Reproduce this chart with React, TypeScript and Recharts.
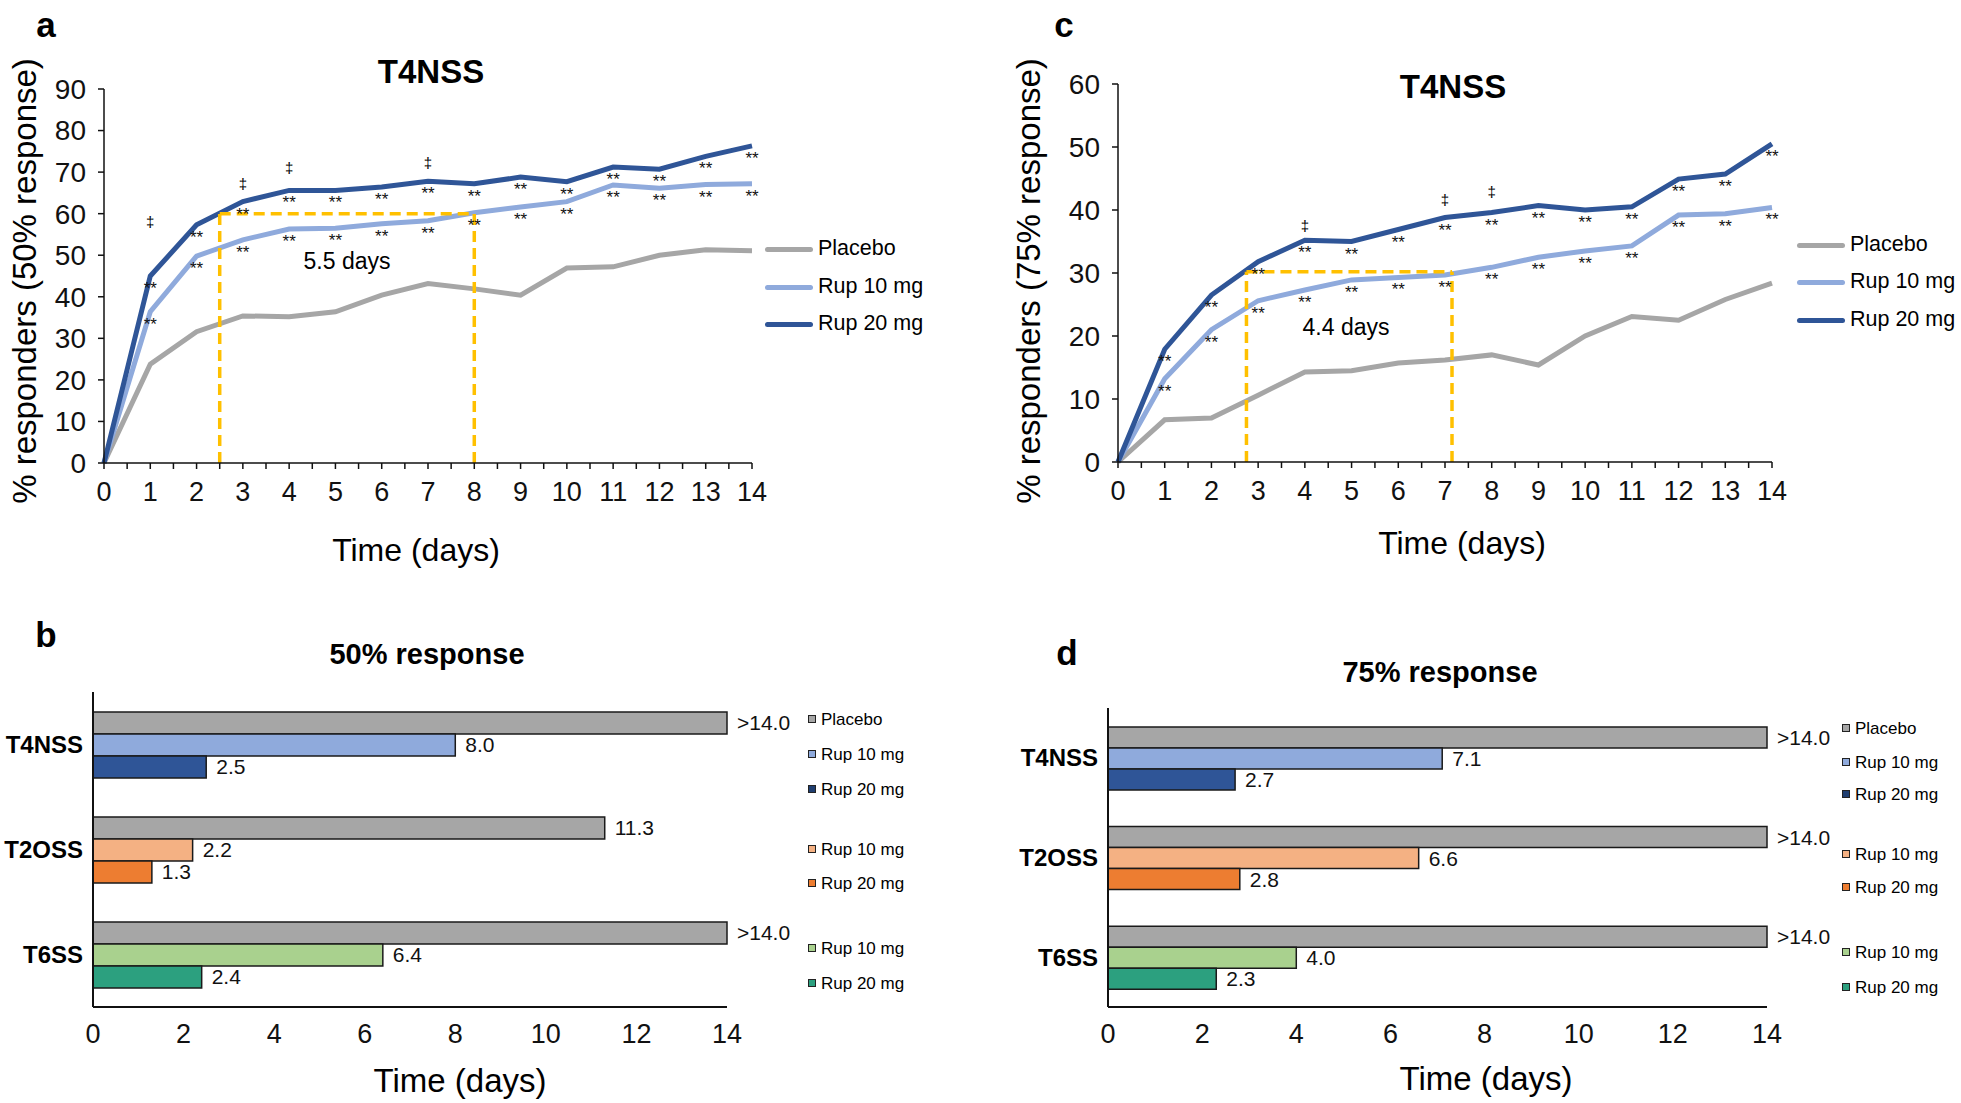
import React from "react";
import {
  ComposedChart,
  Line,
  Scatter,
  XAxis,
  YAxis,
  ReferenceLine,
  BarChart,
  Bar,
  Cell,
  LabelList,
} from "recharts";

const FONT = '"Liberation Sans", Arial, Helvetica, sans-serif';

// ---- line panels (T4NSS responders over time) ----
const days = [0, 1, 2, 3, 4, 5, 6, 7, 8, 9, 10, 11, 12, 13, 14];
const dayTicks = [
  0, 0.5, 1, 1.5, 2, 2.5, 3, 3.5, 4, 4.5, 5, 5.5, 6, 6.5, 7, 7.5, 8, 8.5, 9, 9.5, 10, 10.5, 11, 11.5,
  12, 12.5, 13, 13.5, 14,
];

const placebo50 = [0, 23.8, 31.6, 35.4, 35.2, 36.4, 40.4, 43.2, 41.9, 40.4, 46.9, 47.2, 50.0, 51.3, 51.1];
const rup10mg50 = [0, 36.4, 49.8, 53.7, 56.3, 56.5, 57.6, 58.3, 60.2, 61.6, 62.9, 66.9, 66.1, 67.0, 67.2];
const rup20mg50 = [0, 45.0, 57.3, 62.9, 65.6, 65.6, 66.4, 67.8, 67.2, 68.8, 67.7, 71.2, 70.7, 73.8, 76.3];
const yTicks50 = [0, 10, 20, 30, 40, 50, 60, 70, 80, 90];
const daggers50 = [
  { day: 1, y: 57.9 },
  { day: 3, y: 67.1 },
  { day: 4, y: 71.0 },
  { day: 7, y: 72.3 },
];
const median50 = { from: 2.5, to: 8, level: 60, label: "5.5 days" };

const placebo75 = [0, 6.7, 7.0, 10.6, 14.3, 14.5, 15.7, 16.2, 17.0, 15.4, 20.0, 23.1, 22.5, 25.8, 28.4];
const rup10mg75 = [0, 13.2, 21.0, 25.6, 27.3, 28.9, 29.3, 29.7, 30.9, 32.5, 33.5, 34.3, 39.2, 39.4, 40.4];
const rup20mg75 = [0, 17.9, 26.5, 31.8, 35.2, 35.0, 36.9, 38.8, 39.6, 40.7, 40.0, 40.5, 44.9, 45.7, 50.5];
const yTicks75 = [0, 10, 20, 30, 40, 50, 60];
const daggers75 = [
  { day: 4, y: 37.5 },
  { day: 7, y: 41.6 },
  { day: 8, y: 42.8 },
];
const median75 = { from: 2.75, to: 7.15, level: 30.2, label: "4.4 days" };

const lineSeries = [
  { key: "placebo", name: "Placebo", color: "#A6A6A6" },
  { key: "rup10", name: "Rup 10 mg", color: "#8FAADC" },
  { key: "rup20", name: "Rup 20 mg", color: "#2F5597" },
];

// ---- bar panels (median time to response) ----
const groups = ["T4NSS", "T2OSS", "T6SS"];
const placeboB = [14, 11.3, 14];
const rup10B = [8.0, 2.2, 6.4];
const rup20B = [2.5, 1.3, 2.4];
const placeboD = [14, 14, 14];
const rup10D = [7.1, 6.6, 4.0];
const rup20D = [2.7, 2.8, 2.3];
const timeTicks = [0, 2, 4, 6, 8, 10, 12, 14];

const placeboColor = "#A6A6A6";
const rup10Colors = ["#8FAADC", "#F4B183", "#A9D18E"];
const rup20Colors = ["#2F5597", "#ED7D31", "#2CA07F"];

const AXIS = "#111";

function Txt({
  x,
  y,
  size,
  bold,
  rotate,
  left,
  children,
}: {
  x: number;
  y: number;
  size: number;
  bold?: boolean;
  rotate?: boolean;
  left?: boolean;
  children: React.ReactNode;
}) {
  const tf = left ? "translate(0,-50%)" : "translate(-50%,-50%)" + (rotate ? " rotate(-90deg)" : "");
  return (
    <div
      style={{
        position: "absolute",
        left: x,
        top: y,
        transform: tf,
        fontSize: size,
        fontWeight: bold ? 700 : 400,
        lineHeight: 1,
        whiteSpace: "nowrap",
        color: "#000",
      }}
    >
      {children}
    </div>
  );
}

const stars = (props: any) => {
  const { x, y, index } = props;
  if (!index) return null;
  return (
    <text x={x} y={y + 18} textAnchor="middle" fontSize={17} fill="#111" fontFamily={FONT}>
      **
    </text>
  );
};

const daggerShape = (props: any) => (
  <text x={props.cx} y={props.cy + 5} textAnchor="middle" fontSize={15} fill="#000" fontFamily={FONT}>
    ‡
  </text>
);

function ResponderChart({
  left,
  placebo,
  rup10,
  rup20,
  yTicks,
  daggers,
  median,
  margin,
}: {
  left: number;
  placebo: number[];
  rup10: number[];
  rup20: number[];
  yTicks: number[];
  daggers: { day: number; y: number }[];
  median: { from: number; to: number; level: number; label: string };
  margin: { top: number; right: number; bottom: number; left: number };
}) {
  const data = days.map((d, i) => ({ day: d, placebo: placebo[i], rup10: rup10[i], rup20: rup20[i] }));
  const yMax = yTicks[yTicks.length - 1];
  const yellow = { stroke: "#FFC000", strokeWidth: 3.5, strokeDasharray: "11 6" };
  return (
    <div style={{ position: "absolute", left, top: 0 }}>
      <ComposedChart width={left === 0 ? 930 : 1001} height={575} data={data} margin={margin}>
        <XAxis
          dataKey="day"
          type="number"
          domain={[0, 14]}
          ticks={dayTicks}
          interval={0}
          tickFormatter={(v: number) => (Number.isInteger(v) ? String(v) : "")}
          tickSize={6}
          tickMargin={13}
          height={40}
          axisLine={{ stroke: AXIS, strokeWidth: 1.5 }}
          tickLine={{ stroke: AXIS, strokeWidth: 1.5 }}
          tick={{ fill: "#111", fontSize: 27, fontFamily: FONT }}
        />
        <YAxis
          type="number"
          domain={[0, yMax]}
          ticks={yTicks}
          interval={0}
          width={104}
          tickSize={6}
          tickMargin={12}
          axisLine={{ stroke: AXIS, strokeWidth: 1.5 }}
          tickLine={{ stroke: AXIS, strokeWidth: 1.5 }}
          tick={{ fill: "#111", fontSize: 28, fontFamily: FONT }}
        />
        <Line dataKey="placebo" stroke={lineSeries[0].color} strokeWidth={5} dot={false} isAnimationActive={false} />
        <Line
          dataKey="rup10"
          stroke={lineSeries[1].color}
          strokeWidth={5}
          dot={false}
          label={stars}
          isAnimationActive={false}
        />
        <Line
          dataKey="rup20"
          stroke={lineSeries[2].color}
          strokeWidth={5}
          dot={false}
          label={stars}
          isAnimationActive={false}
        />
        <ReferenceLine
          segment={[
            { x: median.from, y: 0 },
            { x: median.from, y: median.level },
          ]}
          {...yellow}
        />
        <ReferenceLine
          segment={[
            { x: median.from, y: median.level },
            { x: median.to, y: median.level },
          ]}
          {...yellow}
        />
        <ReferenceLine
          segment={[
            { x: median.to, y: 0 },
            { x: median.to, y: median.level },
          ]}
          {...yellow}
        />
        <Scatter data={daggers} dataKey="y" shape={daggerShape} isAnimationActive={false} />
      </ComposedChart>
    </div>
  );
}

function LineLegend({ x, ys }: { x: number; ys: number[] }) {
  return (
    <>
      {lineSeries.map((s, i) => (
        <React.Fragment key={s.key}>
          <div
            style={{
              position: "absolute",
              left: x,
              top: ys[i] - 2.5,
              width: 48,
              height: 5,
              borderRadius: 3,
              background: s.color,
            }}
          />
          <Txt x={x + 53} y={ys[i]} size={21.5} left>
            {s.name}
          </Txt>
        </React.Fragment>
      ))}
    </>
  );
}

function TimeChart({
  left,
  width,
  placebo,
  rup10,
  rup20,
  axisWidth,
  margin,
}: {
  left: number;
  width: number;
  placebo: number[];
  rup10: number[];
  rup20: number[];
  axisWidth: number;
  margin: { top: number; right: number; bottom: number; left: number };
}) {
  const data = groups.map((g, i) => ({ group: g, placebo: placebo[i], rup10: rup10[i], rup20: rup20[i] }));
  const lbl = { position: "right" as const, offset: 10, fill: "#111", fontSize: 21, fontFamily: FONT };
  return (
    <div style={{ position: "absolute", left, top: 600 }}>
      <BarChart
        width={width}
        height={503}
        data={data}
        layout="vertical"
        margin={margin}
        barCategoryGap="19%"
        barGap={0}
      >
        <XAxis
          type="number"
          domain={[0, 14]}
          ticks={timeTicks}
          interval={0}
          height={60}
          tickLine={false}
          tickSize={0}
          tickMargin={17}
          axisLine={{ stroke: AXIS, strokeWidth: 2 }}
          tick={{ fill: "#111", fontSize: 27, fontFamily: FONT }}
        />
        <YAxis
          type="category"
          dataKey="group"
          width={axisWidth}
          tickLine={false}
          tickSize={0}
          tickMargin={10}
          axisLine={{ stroke: AXIS, strokeWidth: 2 }}
          tick={{ fill: "#000", fontSize: 24, fontWeight: 700, fontFamily: FONT }}
        />
        <Bar dataKey="placebo" stroke="#1a1a1a" strokeWidth={1.5} isAnimationActive={false}>
          {groups.map((g) => (
            <Cell key={g} fill={placeboColor} />
          ))}
          <LabelList
            dataKey="placebo"
            {...lbl}
            formatter={(v: any) => (Number(v) >= 14 ? ">14.0" : Number(v).toFixed(1))}
          />
        </Bar>
        <Bar dataKey="rup10" stroke="#1a1a1a" strokeWidth={1.5} isAnimationActive={false}>
          {groups.map((g, i) => (
            <Cell key={g} fill={rup10Colors[i]} />
          ))}
          <LabelList dataKey="rup10" {...lbl} formatter={(v: any) => Number(v).toFixed(1)} />
        </Bar>
        <Bar dataKey="rup20" stroke="#1a1a1a" strokeWidth={1.5} isAnimationActive={false}>
          {groups.map((g, i) => (
            <Cell key={g} fill={rup20Colors[i]} />
          ))}
          <LabelList dataKey="rup20" {...lbl} formatter={(v: any) => Number(v).toFixed(1)} />
        </Bar>
      </BarChart>
    </div>
  );
}

function BarLegend({ x, ys }: { x: number; ys: number[] }) {
  const items = [
    { name: "Placebo", color: placeboColor },
    { name: "Rup 10 mg", color: rup10Colors[0] },
    { name: "Rup 20 mg", color: "#1F3E70" },
    { name: "Rup 10 mg", color: rup10Colors[1] },
    { name: "Rup 20 mg", color: rup20Colors[1] },
    { name: "Rup 10 mg", color: rup10Colors[2] },
    { name: "Rup 20 mg", color: rup20Colors[2] },
  ];
  return (
    <>
      {items.map((it, i) => (
        <React.Fragment key={i}>
          <div
            style={{
              position: "absolute",
              left: x,
              top: ys[i] - 4.5,
              width: 6,
              height: 6,
              border: "1.5px solid #222",
              background: it.color,
            }}
          />
          <Txt x={x + 13} y={ys[i]} size={17} left>
            {it.name}
          </Txt>
        </React.Fragment>
      ))}
    </>
  );
}

export default function App() {
  return (
    <div
      style={{
        position: "absolute",
        left: 0,
        top: 0,
        width: 1961,
        height: 1103,
        background: "#fff",
        fontFamily: FONT,
        overflow: "hidden",
      }}
    >
      {/* panel a */}
      <ResponderChart
        left={0}
        placebo={placebo50}
        rup10={rup10mg50}
        rup20={rup20mg50}
        yTicks={yTicks50}
        daggers={daggers50}
        median={median50}
        margin={{ top: 89, right: 178, bottom: 72, left: 0 }}
      />
      <Txt x={46} y={24} size={35} bold>a</Txt>
      <Txt x={431} y={71} size={33} bold>T4NSS</Txt>
      <Txt x={24} y={281} size={33} rotate>% responders (50% response)</Txt>
      <Txt x={416} y={550} size={32}>Time (days)</Txt>
      <Txt x={347} y={261} size={23}>{median50.label}</Txt>
      <LineLegend x={765} ys={[249, 287, 324]} />

      {/* panel c */}
      <ResponderChart
        left={960}
        placebo={placebo75}
        rup10={rup10mg75}
        rup20={rup20mg75}
        yTicks={yTicks75}
        daggers={daggers75}
        median={median75}
        margin={{ top: 84, right: 189, bottom: 73, left: 54 }}
      />
      <Txt x={1064} y={24} size={35} bold>c</Txt>
      <Txt x={1453} y={86} size={33} bold>T4NSS</Txt>
      <Txt x={1028} y={281} size={33} rotate>% responders (75% response)</Txt>
      <Txt x={1462} y={543} size={32}>Time (days)</Txt>
      <Txt x={1346} y={327} size={23}>{median75.label}</Txt>
      <LineLegend x={1797} ys={[245, 282, 320]} />

      {/* panel b */}
      <TimeChart
        left={0}
        width={930}
        placebo={placeboB}
        rup10={rup10B}
        rup20={rup20B}
        axisWidth={93}
        margin={{ top: 92, right: 203, bottom: 36, left: 0 }}
      />
      <Txt x={46} y={634} size={35} bold>b</Txt>
      <Txt x={427} y={654} size={29} bold>50% response</Txt>
      <Txt x={460} y={1080} size={33}>Time (days)</Txt>
      <BarLegend x={808} ys={[719, 754, 789, 849, 883, 948, 983]} />

      {/* panel d */}
      <TimeChart
        left={960}
        width={1001}
        placebo={placeboD}
        rup10={rup10D}
        rup20={rup20D}
        axisWidth={100}
        margin={{ top: 108, right: 194, bottom: 36, left: 48 }}
      />
      <Txt x={1067} y={652} size={35} bold>d</Txt>
      <Txt x={1440} y={672} size={29} bold>75% response</Txt>
      <Txt x={1486} y={1078} size={33}>Time (days)</Txt>
      <BarLegend x={1842} ys={[728, 762, 794, 854, 887, 952, 987]} />
    </div>
  );
}
